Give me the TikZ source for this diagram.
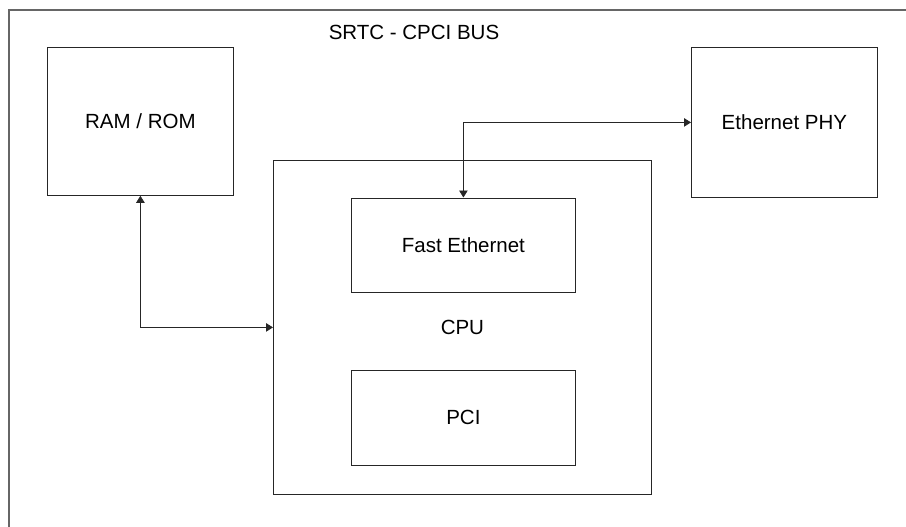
\documentclass[tikz,border=0pt]{standalone}
\usepackage{fontspec}
\setmainfont{Liberation Sans}
\usetikzlibrary{arrows.meta}
\begin{document}
\begin{tikzpicture}[x=1pt,y=-1pt,
  blk/.style={draw=black!85,line width=0.8pt,minimum width=#1,inner sep=0pt,anchor=north west,font=\fontsize{20.5}{24}\selectfont},
  lbl/.style={font=\fontsize{20.5}{24}\selectfont,inner sep=0pt},
  link/.style={draw=black!85,line width=0.8pt,{Triangle[length=7pt,width=8.5pt]}-{Triangle[length=7pt,width=8.5pt]}}]
  \useasboundingbox (0,0) rectangle (906,527);
  % outer bus frame (runs off the page on the right and bottom)
  \draw[black!60,line width=1.2pt] (9,527) -- (9,10) -- (906,10);
  \node[lbl] (title) at (414,32) {SRTC - CPCI BUS};
  % blocks
  \node[blk=186pt,minimum height=148pt] (ram) at (47,47) {RAM / ROM};
  \node[blk=186pt,minimum height=150pt] (phy) at (691,47) {Ethernet PHY};
  \node[blk=378pt,minimum height=334pt] (cpu) at (273,160) {};
  \node[lbl] (cpulbl) at (cpu.center) {CPU};
  \node[blk=224pt,minimum height=94pt] (fe) at (351,197.5) {Fast Ethernet};
  \node[blk=224pt,minimum height=95pt] (pci) at (351,369.5) {PCI};
  % connectors
  \draw[link] (ram.south) |- (cpu.west);
  \draw[link] (fe.north) |- (phy.west);
\end{tikzpicture}
\end{document}
